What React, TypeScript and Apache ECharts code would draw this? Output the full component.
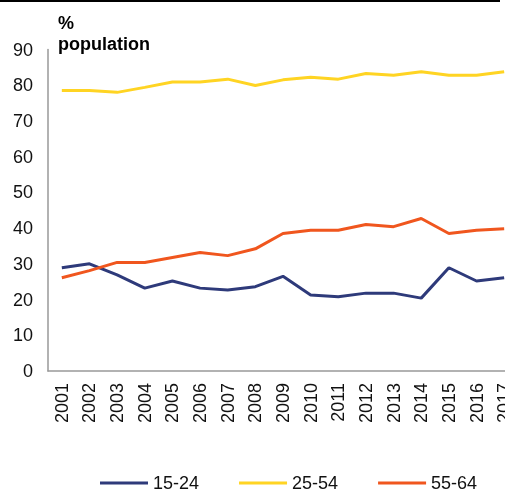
import React, { useEffect, useRef } from "react";
import * as echarts from "echarts";

const years = ["2001","2002","2003","2004","2005","2006","2007","2008","2009","2010","2011","2012","2013","2014","2015","2016","2017"];
const youth = [28.9, 30.0, 26.9, 23.2, 25.2, 23.2, 22.7, 23.6, 26.5, 21.3, 20.8, 21.8, 21.8, 20.4, 28.9, 25.2, 26.1];
const prime = [78.5, 78.5, 78.0, 79.4, 80.9, 80.9, 81.7, 79.9, 81.5, 82.2, 81.7, 83.3, 82.8, 83.8, 82.8, 82.8, 83.8];
const older = [26.1, 28.1, 30.4, 30.4, 31.8, 33.2, 32.3, 34.2, 38.5, 39.4, 39.4, 41.0, 40.4, 42.7, 38.5, 39.4, 39.8];
const seriesNames = ["15-24", "25-54", "55-64"];
const colors = ["#2E3A7A", "#FFD423", "#F0561E"];
const yTicks = { min: 0, max: 90, interval: 10 };

export default function App() {
  const ref = useRef<HTMLDivElement>(null);
  useEffect(() => {
    if (!ref.current) return;
    const chart = echarts.init(ref.current, null, { renderer: "svg" });
    const font = "Liberation Sans, Arial, sans-serif";
    const data = [youth, prime, older];
    chart.setOption({
      animation: false,
      textStyle: { fontFamily: font },
      title: {
        text: "%\npopulation",
        left: 53,
        top: 7,
        textStyle: { fontSize: 18, fontWeight: "bold", color: "#000", lineHeight: 21, fontFamily: font },
      },
      graphic: [
        { type: "line", shape: { x1: 0, y1: 1, x2: 500, y2: 1 }, style: { stroke: "#000", lineWidth: 2 } },
      ],
      grid: { left: 48, right: -13, top: 49.5, bottom: 121, containLabel: false, outerBoundsMode: "none" },
      legend: {
        left: 95,
        top: 469,
        icon: "rect",
        itemWidth: 48,
        itemHeight: 3,
        itemGap: 40,
        textStyle: { fontSize: 18, color: "#111", fontFamily: font },
        data: seriesNames,
      },
      xAxis: {
        type: "category",
        data: years,
        boundaryGap: true,
        axisLine: { lineStyle: { color: "#999", width: 1.5 } },
        axisTick: { show: false },
        axisLabel: { rotate: 90, fontSize: 18, color: "#111", margin: 12, interval: 0, fontFamily: font },
      },
      yAxis: {
        type: "value",
        min: yTicks.min,
        max: yTicks.max,
        interval: yTicks.interval,
        axisLine: { show: true, lineStyle: { color: "#999", width: 1.5 } },
        axisTick: { show: false },
        splitLine: { show: false },
        axisLabel: { fontSize: 18, color: "#111", margin: 15, fontFamily: font },
      },
      series: seriesNames.map((name, i) => ({
        name,
        type: "line",
        data: data[i],
        showSymbol: false,
        symbol: "none",
        lineStyle: { color: colors[i], width: 3 },
        itemStyle: { color: colors[i] },
      })),
    });
    return () => chart.dispose();
  }, []);
  return <div ref={ref} style={{ position: "fixed", left: 0, top: 0, width: 505, height: 492 }} />;
}
